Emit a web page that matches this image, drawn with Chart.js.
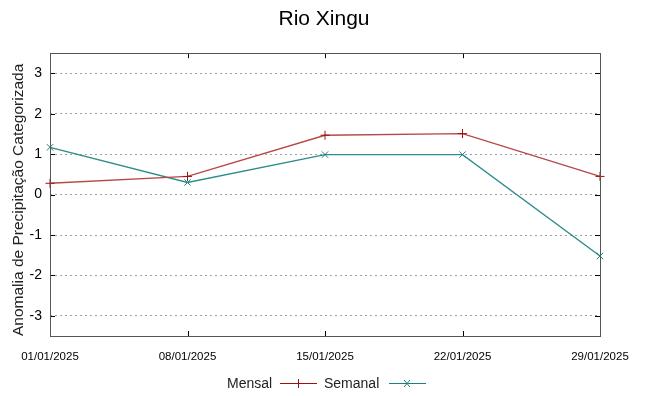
<!DOCTYPE html>
<html>
<head>
<meta charset="utf-8">
<script src="https://cdn.jsdelivr.net/npm/chart.js@4.4.0/dist/chart.umd.min.js"></script>
<style>
  html, body { margin: 0; padding: 0; background: #fff; }
  #wrap { position: relative; width: 648px; height: 396px; }
  .leg { position: absolute; top: 374px; font: 14px "Liberation Sans", Arial, sans-serif; color: #222; line-height: 18px; }
  .legline { position: absolute; top: 374px; }
</style>
</head>
<body>
<div id="wrap">
  <canvas id="chart" width="648" height="396"></canvas>
  <span class="leg" style="left:227px">Mensal</span>
  <svg class="legline" style="left:279px" width="40" height="18"><line x1="1" y1="9.5" x2="38" y2="9.5" stroke="#a01010" stroke-width="1.2"/><line x1="19.5" y1="5" x2="19.5" y2="14" stroke="#a01010" stroke-width="1"/></svg>
  <span class="leg" style="left:324px">Semanal</span>
  <svg class="legline" style="left:388px" width="40" height="18"><line x1="1" y1="9.5" x2="38" y2="9.5" stroke="#1f7f7f" stroke-width="1.2"/><line x1="16" y1="6" x2="22" y2="13" stroke="#1f7f7f" stroke-width="1"/><line x1="22" y1="6" x2="16" y2="13" stroke="#1f7f7f" stroke-width="1"/></svg>
</div>
<script>
// Data
const dates = ['01/01/2025', '08/01/2025', '15/01/2025', '22/01/2025', '29/01/2025'];
const mensal = [0.28, 0.45, 1.47, 1.51, 0.45];
const semanal = [1.17, 0.30, 0.99, 0.99, -1.52];
const yTicks = [-3, -2, -1, 0, 1, 2, 3];

// Draw the gnuplot-like frame with inward ticks
const framePlugin = {
    id: 'frame',
    afterDraw(chart) {
        const ctx = chart.ctx;
        const a = chart.chartArea;
        const xs = chart.scales.x;
        const ys = chart.scales.y;
        ctx.save();
        ctx.strokeStyle = '#000';
        ctx.lineWidth = 1;
        ctx.beginPath();
        yTicks.forEach(v => {
            const y = Math.round(ys.getPixelForValue(v)) + 0.5;
            ctx.moveTo(a.left, y); ctx.lineTo(a.left + 5, y);
            ctx.moveTo(a.right, y); ctx.lineTo(a.right - 5, y);
        });
        dates.forEach((d, i) => {
            const x = Math.round(xs.getPixelForValue(i)) + 0.5;
            ctx.moveTo(x, a.bottom); ctx.lineTo(x, a.bottom - 5);
            ctx.moveTo(x, a.top); ctx.lineTo(x, a.top + 5);
        });
        ctx.stroke();
        ctx.strokeStyle = '#555';
        ctx.strokeRect(Math.round(a.left) + 0.5, Math.round(a.top) + 0.5,
            Math.round(a.right - a.left), Math.round(a.bottom - a.top));
        ctx.restore();
    }
};

const sans = '"Liberation Sans", Arial, sans-serif';

new Chart(document.getElementById('chart').getContext('2d'), {
    type: 'line',
    data: {
        labels: dates,
        datasets: [
            {
                label: 'Mensal',
                data: mensal,
                borderColor: '#b84848',
                borderWidth: 1.4,
                pointStyle: 'cross',
                pointRadius: 4.5,
                pointBorderColor: '#a01010',
                pointBorderWidth: 1,
                fill: false,
                tension: 0
            },
            {
                label: 'Semanal',
                data: semanal,
                borderColor: '#2f8c8c',
                borderWidth: 1.4,
                pointStyle: 'crossRot',
                pointRadius: 4.5,
                pointBorderColor: '#1f7f7f',
                pointBorderWidth: 1,
                fill: false,
                tension: 0
            }
        ]
    },
    options: {
        responsive: false,
        animation: false,
        layout: { padding: 0 },
        plugins: {
            legend: { display: false },
            tooltip: { enabled: false },
            title: {
                display: true,
                text: 'Rio Xingu',
                color: '#000',
                font: { family: sans, size: 21, weight: 'normal' },
                padding: { top: 7, bottom: 21 }
            }
        },
        scales: {
            x: {
                type: 'category',
                offset: false,
                grid: { display: false, drawTicks: false },
                border: { display: false },
                ticks: {
                    color: '#000',
                    maxRotation: 0,
                    autoSkip: false,
                    padding: 14,
                    font: { family: sans, size: 11.5 }
                },
                afterFit(scale) { scale.height = 60; }
            },
            y: {
                min: -3.5,
                max: 3.5,
                afterBuildTicks(scale) { scale.ticks = yTicks.map(v => ({ value: v })); },
                afterFit(scale) { scale.width = 50; },
                grid: { color: '#a0a0a0', drawTicks: false, lineWidth: 1 },
                border: { display: false, dash: [2, 3] },
                ticks: {
                    color: '#000',
                    padding: 8,
                    font: { family: sans, size: 14 }
                },
                title: {
                    display: true,
                    text: 'Anomalia de Precipitação Categorizada',
                    color: '#222',
                    align: 'start',
                    padding: { top: 9, bottom: 0 },
                    font: { family: sans, size: 15.5 }
                }
            },
            y2: {
                position: 'right',
                display: true,
                grid: { display: false, drawTicks: false },
                border: { display: false },
                ticks: { display: false },
                afterFit(scale) { scale.width = 48; }
            }
        }
    },
    plugins: [framePlugin]
});
</script>
</body>
</html>
